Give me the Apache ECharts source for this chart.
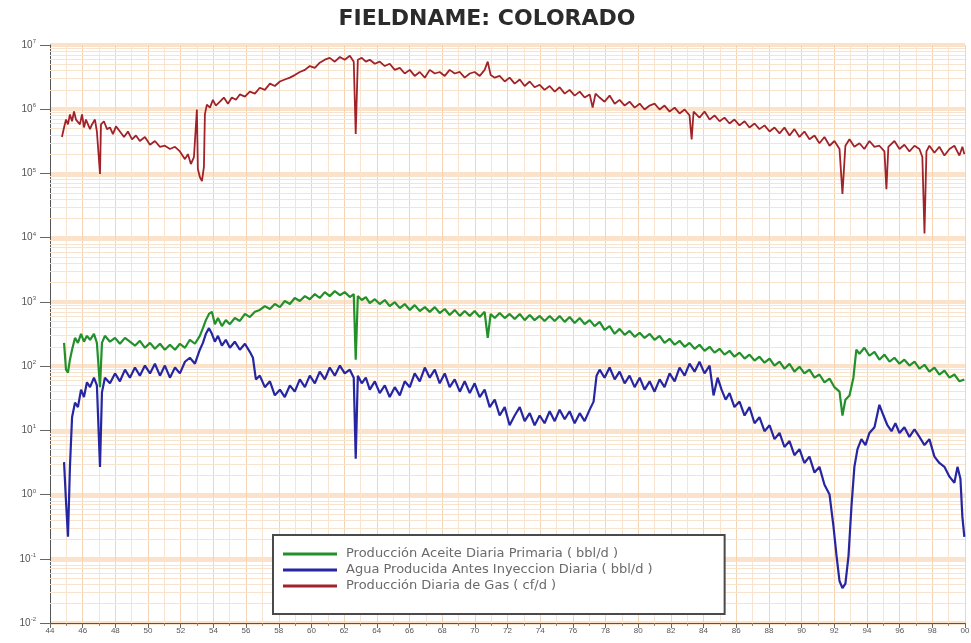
<!DOCTYPE html>
<html>
<head>
<meta charset="utf-8">
<title>FIELDNAME: COLORADO</title>
<script src="https://cdn.jsdelivr.net/npm/echarts@6/dist/echarts.min.js"></script>
<style>
  html, body { margin: 0; padding: 0; background: #fff; }
  #chart { width: 971px; height: 643px; }
</style>
</head>
<body>
<div id="chart"></div>
<script>
// Daily production history, Colorado field (decimal year, rate)
const chartTitle = 'FIELDNAME: COLORADO';
const seriesNames = [
  'Producción Aceite Diaria Primaria ( bbl/d )',
  'Agua Producida Antes Inyeccion Diaria ( bbl/d )',
  'Producción Diaria de Gas ( cf/d )'
];
const seriesColors = ['#23912b', '#2626a3', '#a1232a'];

const yearMin = 1944;
const yearMax = 2000;
const yearStep = 2;
const decadeExponents = [-2, -1, 0, 1, 2, 3, 4, 5, 6, 7];
const minorMultipliers = [2, 3, 4, 5, 6, 7, 8, 9];

const oilData = [
  [1944.86,230],[1944.98,88],[1945.10,79],[1945.22,126],[1945.35,180],[1945.53,275],[1945.71,230],[1945.90,318],
  [1946.08,240],[1946.26,296],[1946.45,257],[1946.69,318],[1946.87,230],[1947.06,47],[1947.18,230],[1947.36,296],
  [1947.67,240],[1947.98,275],[1948.28,223],[1948.59,275],[1948.89,240],[1949.20,208],[1949.50,248],[1949.81,193],
  [1950.12,230],[1950.42,186],[1950.73,223],[1951.03,180],[1951.34,215],[1951.65,180],[1951.95,223],[1952.26,193],
  [1952.56,257],[1952.87,223],[1953.17,296],[1953.36,390],[1953.54,520],[1953.73,650],[1953.91,700],[1954.09,450],
  [1954.28,560],[1954.52,420],[1954.76,520],[1955.01,450],[1955.31,560],[1955.62,505],[1955.93,650],[1956.23,580],
  [1956.54,700],[1956.84,750],[1957.15,860],[1957.46,775],[1957.76,925],[1958.07,830],[1958.37,1030],[1958.68,925],
  [1958.98,1150],[1959.29,1030],[1959.60,1230],[1959.90,1100],[1960.21,1320],[1960.51,1150],[1960.82,1420],[1961.12,1230],
  [1961.43,1470],[1961.74,1270],[1962.04,1420],[1962.35,1190],[1962.59,1320],[1962.71,126],[1962.84,1230],[1963.08,1070],
  [1963.33,1190],[1963.57,960],[1963.88,1100],[1964.18,925],[1964.49,1070],[1964.79,860],[1965.10,990],[1965.41,800],
  [1965.71,925],[1966.02,750],[1966.32,890],[1966.63,720],[1966.94,830],[1967.24,700],[1967.55,830],[1967.85,670],
  [1968.16,775],[1968.46,625],[1968.77,750],[1969.08,605],[1969.38,720],[1969.69,605],[1969.99,720],[1970.30,580],
  [1970.60,700],[1970.79,275],[1970.97,650],[1971.22,560],[1971.52,670],[1971.83,560],[1972.13,650],[1972.44,540],
  [1972.75,650],[1973.05,520],[1973.36,625],[1973.66,520],[1973.97,605],[1974.27,505],[1974.58,605],[1974.89,505],
  [1975.19,605],[1975.50,488],[1975.80,580],[1976.11,470],[1976.42,560],[1976.72,450],[1977.03,520],[1977.33,420],
  [1977.64,488],[1977.94,366],[1978.25,420],[1978.56,318],[1978.86,380],[1979.17,307],[1979.47,354],[1979.78,286],
  [1980.09,330],[1980.39,275],[1980.70,318],[1981.00,257],[1981.31,296],[1981.61,230],[1981.92,266],[1982.23,215],
  [1982.53,248],[1982.84,200],[1983.14,230],[1983.45,186],[1983.75,215],[1984.06,173],[1984.37,200],[1984.67,162],
  [1984.98,186],[1985.28,151],[1985.59,173],[1985.89,140],[1986.20,162],[1986.51,131],[1986.81,151],[1987.12,122],
  [1987.42,140],[1987.73,113],[1988.04,131],[1988.34,102],[1988.65,117],[1988.95,91],[1989.26,109],[1989.56,82],
  [1989.87,98],[1990.17,77],[1990.48,88],[1990.79,66],[1991.09,74],[1991.40,56],[1991.71,64],[1992.01,47],
  [1992.32,40],[1992.50,17],[1992.68,30],[1992.93,35],[1993.17,66],[1993.35,180],[1993.54,156],[1993.84,193],
  [1994.15,145],[1994.46,167],[1994.76,126],[1995.07,151],[1995.38,117],[1995.68,135],[1995.99,109],[1996.29,126],
  [1996.60,102],[1996.91,117],[1997.21,91],[1997.52,105],[1997.82,82],[1998.13,95],[1998.43,74],[1998.74,85],
  [1999.05,66],[1999.35,74],[1999.66,58],[1999.96,62]
];

const waterData = [
  [1944.86,3.2],[1944.98,0.78],[1945.10,0.22],[1945.22,2.7],[1945.35,16],[1945.53,27],[1945.71,23],[1945.90,43],
  [1946.08,33],[1946.26,56],[1946.45,47],[1946.69,66],[1946.87,50],[1947.06,2.7],[1947.18,39],[1947.36,66],
  [1947.67,54],[1947.98,77],[1948.28,58],[1948.59,88],[1948.89,66],[1949.20,95],[1949.50,71],[1949.81,102],
  [1950.12,77],[1950.42,109],[1950.73,71],[1951.03,102],[1951.34,66],[1951.65,95],[1951.95,77],[1952.26,117],
  [1952.56,135],[1952.87,109],[1953.17,180],[1953.36,230],[1953.54,318],[1953.73,390],[1953.91,318],[1954.09,240],
  [1954.28,296],[1954.52,208],[1954.76,257],[1955.01,193],[1955.31,240],[1955.62,180],[1955.93,223],[1956.23,167],
  [1956.42,135],[1956.60,62],[1956.84,71],[1957.15,47],[1957.46,58],[1957.76,35],[1958.07,43],[1958.37,33],
  [1958.68,50],[1958.98,40],[1959.29,62],[1959.60,47],[1959.90,71],[1960.21,54],[1960.51,82],[1960.82,62],
  [1961.12,95],[1961.43,71],[1961.74,102],[1962.04,77],[1962.35,88],[1962.59,66],[1962.71,3.6],[1962.84,71],
  [1963.08,54],[1963.33,66],[1963.57,43],[1963.88,58],[1964.18,38],[1964.49,50],[1964.79,33],[1965.10,47],
  [1965.41,35],[1965.71,58],[1966.02,47],[1966.32,77],[1966.63,58],[1966.94,95],[1967.24,66],[1967.55,88],
  [1967.85,54],[1968.16,77],[1968.46,47],[1968.77,62],[1969.08,40],[1969.38,58],[1969.69,38],[1969.99,54],
  [1970.30,33],[1970.60,43],[1970.91,23],[1971.22,30],[1971.52,17],[1971.83,23],[1972.13,12],[1972.44,17],
  [1972.75,23],[1973.05,13.9],[1973.36,18.5],[1973.66,12],[1973.97,17],[1974.27,12.9],[1974.58,19.8],[1974.89,13.9],
  [1975.19,21],[1975.50,14.9],[1975.80,19.8],[1976.11,12.9],[1976.42,18.5],[1976.72,13.9],[1977.03,21],[1977.27,28],
  [1977.45,71],[1977.64,88],[1977.94,66],[1978.25,95],[1978.56,62],[1978.86,82],[1979.17,54],[1979.47,71],
  [1979.78,47],[1980.09,66],[1980.39,43],[1980.70,58],[1981.00,40],[1981.31,62],[1981.61,47],[1981.92,77],
  [1982.23,58],[1982.53,95],[1982.84,71],[1983.14,109],[1983.45,82],[1983.75,117],[1984.06,77],[1984.37,102],
  [1984.61,35],[1984.86,66],[1985.10,43],[1985.35,30],[1985.59,38],[1985.89,23],[1986.20,28],[1986.51,17],
  [1986.81,23],[1987.12,12.9],[1987.42,16],[1987.73,9.7],[1988.04,12],[1988.34,7.3],[1988.65,9.1],[1988.95,5.5],
  [1989.26,6.8],[1989.56,4.1],[1989.87,5.1],[1990.17,3.1],[1990.48,3.9],[1990.79,2.2],[1991.09,2.7],[1991.40,1.42],
  [1991.71,1.0],[1991.95,0.32],[1992.14,0.11],[1992.32,0.045],[1992.50,0.035],[1992.68,0.041],[1992.87,0.11],[1993.05,0.65],
  [1993.23,2.7],[1993.42,5.1],[1993.66,7.3],[1993.91,5.9],[1994.15,9.1],[1994.46,11.2],[1994.76,25],[1995.01,17],
  [1995.25,12],[1995.50,9.7],[1995.74,12.9],[1995.99,9.1],[1996.29,11.2],[1996.60,7.9],[1996.91,10.4],[1997.21,7.9],
  [1997.52,5.9],[1997.82,7.3],[1998.13,3.9],[1998.43,3.1],[1998.74,2.7],[1999.05,1.9],[1999.35,1.53],[1999.54,2.7],
  [1999.72,1.76],[1999.84,0.45],[1999.96,0.22]
];

const gasData = [
  [1944.73,3.7e5],[1944.86,5.2e5],[1944.98,6.9e5],[1945.10,5.8e5],[1945.22,8.3e5],[1945.35,6.5e5],[1945.47,9.2e5],[1945.59,6.9e5],
  [1945.71,7.4e5],[1945.83,5.8e5],[1945.96,8.3e5],[1946.08,5.2e5],[1946.20,6.9e5],[1946.32,6.5e5],[1946.45,4.9e5],[1946.57,5.8e5],
  [1946.75,6.9e5],[1946.87,4.5e5],[1947.06,9.8e4],[1947.12,5.8e5],[1947.30,6.5e5],[1947.49,4.9e5],[1947.67,5.2e5],[1947.85,4.1e5],
  [1948.04,5.4e5],[1948.28,4.5e5],[1948.53,3.7e5],[1948.77,4.5e5],[1949.02,3.4e5],[1949.26,3.9e5],[1949.50,3.2e5],[1949.81,3.7e5],
  [1950.12,2.8e5],[1950.42,3.2e5],[1950.73,2.6e5],[1951.03,2.7e5],[1951.34,2.4e5],[1951.65,2.6e5],[1951.95,2.2e5],[1952.26,1.67e5],
  [1952.44,2.0e5],[1952.62,1.4e5],[1952.81,1.8e5],[1952.99,9.9e5],[1953.05,1.17e5],[1953.17,8.8e4],[1953.30,7.6e4],[1953.42,1.26e5],
  [1953.48,8.3e5],[1953.60,1.18e6],[1953.79,1.06e6],[1953.97,1.4e6],[1954.15,1.14e6],[1954.40,1.31e6],[1954.64,1.52e6],[1954.89,1.22e6],
  [1955.13,1.52e6],[1955.38,1.4e6],[1955.62,1.7e6],[1955.93,1.57e6],[1956.23,1.88e6],[1956.54,1.75e6],[1956.84,2.16e6],[1957.15,2.0e6],
  [1957.46,2.5e6],[1957.76,2.3e6],[1958.07,2.7e6],[1958.37,2.9e6],[1958.68,3.1e6],[1958.98,3.4e6],[1959.29,3.8e6],[1959.60,4.1e6],
  [1959.90,4.7e6],[1960.21,4.4e6],[1960.51,5.3e6],[1960.82,5.9e6],[1961.12,6.3e6],[1961.43,5.5e6],[1961.74,6.5e6],[1962.04,5.9e6],
  [1962.35,6.8e6],[1962.59,5.5e6],[1962.71,4.1e5],[1962.84,5.9e6],[1963.08,6.3e6],[1963.33,5.5e6],[1963.57,5.9e6],[1963.88,5.1e6],
  [1964.18,5.5e6],[1964.49,4.7e6],[1964.79,5.1e6],[1965.10,4.1e6],[1965.41,4.4e6],[1965.71,3.6e6],[1966.02,4.1e6],[1966.32,3.3e6],
  [1966.63,3.8e6],[1966.94,3.1e6],[1967.24,4.1e6],[1967.55,3.6e6],[1967.85,3.8e6],[1968.16,3.3e6],[1968.46,4.1e6],[1968.77,3.6e6],
  [1969.08,3.8e6],[1969.38,3.1e6],[1969.69,3.6e6],[1969.99,3.8e6],[1970.30,3.3e6],[1970.60,4.1e6],[1970.79,5.5e6],[1970.97,3.4e6],
  [1971.22,3.1e6],[1971.52,3.3e6],[1971.83,2.7e6],[1972.13,3.1e6],[1972.44,2.5e6],[1972.75,2.9e6],[1973.05,2.3e6],[1973.36,2.7e6],
  [1973.66,2.2e6],[1973.97,2.4e6],[1974.27,2.0e6],[1974.58,2.3e6],[1974.89,1.88e6],[1975.19,2.2e6],[1975.50,1.75e6],[1975.80,2.0e6],
  [1976.11,1.63e6],[1976.42,1.88e6],[1976.72,1.52e6],[1977.03,1.7e6],[1977.21,1.06e6],[1977.39,1.75e6],[1977.64,1.52e6],[1977.94,1.31e6],
  [1978.25,1.63e6],[1978.56,1.22e6],[1978.86,1.4e6],[1979.17,1.14e6],[1979.47,1.31e6],[1979.78,1.06e6],[1980.09,1.22e6],[1980.39,9.9e5],
  [1980.70,1.14e6],[1981.00,1.22e6],[1981.31,9.9e5],[1981.61,1.14e6],[1981.92,9.2e5],[1982.23,1.06e6],[1982.53,8.6e5],[1982.84,9.9e5],
  [1983.14,8.0e5],[1983.27,3.4e5],[1983.39,9.2e5],[1983.75,7.4e5],[1984.06,9.2e5],[1984.37,6.9e5],[1984.67,8.0e5],[1984.98,6.5e5],
  [1985.28,7.4e5],[1985.59,6.0e5],[1985.89,6.9e5],[1986.20,5.6e5],[1986.51,6.5e5],[1986.81,5.2e5],[1987.12,6.0e5],[1987.42,4.9e5],
  [1987.73,5.6e5],[1988.04,4.5e5],[1988.34,5.2e5],[1988.65,4.2e5],[1988.95,5.2e5],[1989.26,3.9e5],[1989.56,4.9e5],[1989.87,3.7e5],
  [1990.17,4.5e5],[1990.48,3.4e5],[1990.79,3.9e5],[1991.09,2.95e5],[1991.40,3.7e5],[1991.71,2.7e5],[1992.01,3.2e5],[1992.32,2.4e5],
  [1992.50,4.8e4],[1992.68,2.7e5],[1992.93,3.4e5],[1993.23,2.6e5],[1993.54,2.95e5],[1993.84,2.4e5],[1994.15,3.2e5],[1994.46,2.6e5],
  [1994.76,2.7e5],[1995.07,2.2e5],[1995.19,5.7e4],[1995.31,2.6e5],[1995.68,3.2e5],[1995.99,2.4e5],[1996.29,2.8e5],[1996.60,2.2e5],
  [1996.91,2.7e5],[1997.21,2.4e5],[1997.39,1.8e5],[1997.52,1.16e4],[1997.64,2.2e5],[1997.82,2.7e5],[1998.13,2.1e5],[1998.43,2.6e5],
  [1998.74,1.9e5],[1999.05,2.4e5],[1999.35,2.7e5],[1999.66,1.9e5],[1999.84,2.6e5],[1999.96,2.0e5]
];

// Intermediate log gridline values (2..9 within each decade)
const minorValues = [];
decadeExponents.slice(0, -1).forEach(function (e) {
  minorMultipliers.forEach(function (m) { minorValues.push(m * Math.pow(10, e)); });
});

const chart = echarts.init(document.getElementById('chart'), null, { renderer: 'canvas' });

const lineWidths = [2.2, 2.2, 1.8];
const lineSeries = [oilData, waterData, gasData].map(function (d, i) {
  return {
    name: seriesNames[i],
    type: 'line',
    data: d,
    symbol: 'none',
    showSymbol: false,
    z: 5 + i,
    lineStyle: { color: seriesColors[i], width: lineWidths[i] },
    itemStyle: { color: seriesColors[i] },
    emphasis: { disabled: true }
  };
});

// Helper lines sit below the legend box and the data lines
const markLineBase = {
  silent: true,
  symbol: 'none',
  animation: false,
  z: 1,
  label: { show: false },
  emphasis: { disabled: true }
};

chart.setOption({
  animation: false,
  backgroundColor: '#ffffff',
  textStyle: { fontFamily: 'Liberation Sans, Arial, sans-serif' },
  title: {
    text: chartTitle,
    left: 482,
    textAlign: 'center',
    top: 3,
    textStyle: { fontFamily: 'DejaVu Sans, sans-serif', fontSize: 22, fontWeight: 'bold', color: '#2b2b2b' }
  },
  grid: { left: 50, right: 6, top: 45, bottom: 20, containLabel: false, outerBoundsMode: 'none' },
  legend: {
    data: seriesNames.map(function (n) { return { name: n, icon: 'rect' }; }),
    orient: 'vertical',
    left: 273,
    top: 535,
    z: 20,
    padding: [11, 72, 20, 10],
    itemGap: 0,
    itemWidth: 54,
    itemHeight: 3,
    borderColor: '#4a4a4a',
    borderWidth: 2,
    borderRadius: 0,
    backgroundColor: '#ffffff',
    selectedMode: false,
    textStyle: { fontFamily: 'DejaVu Sans, sans-serif', fontSize: 13, lineHeight: 16, color: '#6a6a6a', padding: [0, 0, 0, 4] }
  },
  xAxis: {
    type: 'value',
    min: yearMin,
    max: yearMax,
    interval: yearStep,
    axisLine: { show: true, lineStyle: { color: '#555', width: 1 } },
    axisTick: { show: true, length: 5, lineStyle: { color: '#666' } },
    minorTick: { show: true, splitNumber: 2, length: 3, lineStyle: { color: '#888' } },
    axisLabel: {
      fontSize: 8, color: '#555', margin: 4,
      formatter: function (v) { return String(v).slice(2); }
    },
    splitLine: { show: true, lineStyle: { color: '#f4d4b2', width: 1 } },
    minorSplitLine: { show: true, lineStyle: { color: '#f8e4cf', width: 1 } }
  },
  yAxis: {
    type: 'log',
    logBase: 10,
    min: Math.pow(10, decadeExponents[0]),
    max: Math.pow(10, decadeExponents[decadeExponents.length - 1]),
    axisLine: { show: true, lineStyle: { color: '#555', width: 1 } },
    axisTick: { show: true, length: 10, lineStyle: { color: '#666' } },
    axisLabel: {
      margin: 14,
      color: '#555',
      fontSize: 10,
      formatter: function (v) {
        return '10{e|' + Math.round(Math.log10(v)) + '}';
      },
      rich: { e: { fontSize: 6, color: '#555', verticalAlign: 'top', padding: [0, 0, 7, 0] } }
    },
    splitLine: { show: true, lineStyle: { color: '#fbe2c8', width: 4 } }
  },
  series: [
    {
      name: 'grid-minor',
      type: 'line',
      data: [],
      z: 1,
      silent: true,
      clip: false,
      markLine: Object.assign({}, markLineBase, {
        lineStyle: { color: '#f8e3cd', width: 1, type: 'solid' },
        data: minorValues.map(function (v) { return { yAxis: v }; })
      })
    },
    {
      name: 'axis-minor-ticks',
      type: 'line',
      data: [],
      z: 2,
      silent: true,
      clip: false,
      markLine: Object.assign({}, markLineBase, {
        z: 2,
        lineStyle: { color: '#777', width: 1, type: 'solid' },
        data: minorValues.map(function (v) {
          return [{ coord: [yearMin - 0.25, v] }, { coord: [yearMin, v] }];
        })
      })
    }
  ].concat(lineSeries)
});
</script>
</body>
</html>
